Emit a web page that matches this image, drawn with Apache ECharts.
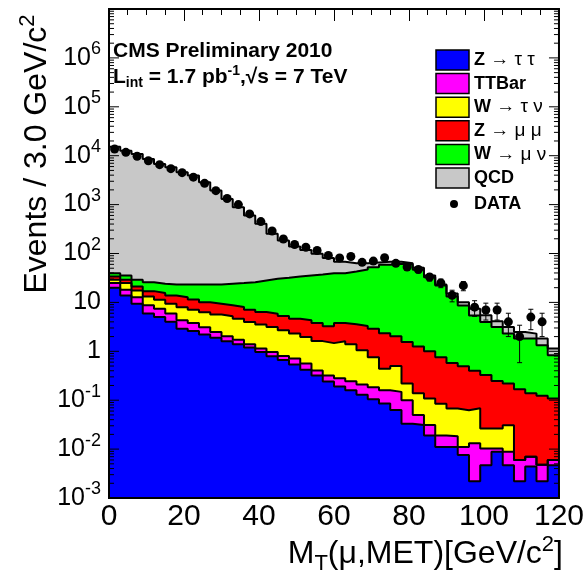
<!DOCTYPE html>
<html>
<head>
<meta charset="utf-8">
<script src="https://cdn.jsdelivr.net/npm/echarts@6/dist/echarts.min.js"></script>
<style>
  html, body { margin: 0; padding: 0; background: #fff; }
  #chart { width: 587px; height: 571px; }
</style>
</head>
<body>
<div id="chart"></div>
<script>
  // low edge of each 3 GeV bin
  const binLow = [0, 3, 6, 9, 12, 15, 18, 21, 24, 27, 30, 33, 36, 39, 42, 45, 48, 51, 54, 57,
    60, 63, 66, 69, 72, 75, 78, 81, 84, 87, 90, 93, 96, 99, 102, 105, 108, 111, 114, 117]
  const binWidth = 3

  // MC samples, events per bin (stacked bottom -> top)
  const zTauTau = [20.0, 13.9, 9.4, 5.9, 5.0, 4.0, 2.9, 2.6, 2.2, 1.9, 1.6, 1.39, 1.19, 0.97, 0.79, 0.66, 0.54, 0.42, 0.32, 0.24,
    0.19, 0.16, 0.13, 0.105, 0.086, 0.063, 0.033, 0.031, 0.019, 0.011, 0.011, 0.0076, 0.0022, 0.0047, 0.0088, 0.0047, 0.0022, 0.0044, 0.0022, 0.0047]
  const ttBar = [4.8, 4.3, 3.4, 2.8, 2.4, 1.9, 1.4, 1.2, 0.9, 0.58, 0.42, 0.34, 0.20, 0.17, 0.18, 0.14, 0.17, 0.14, 0.085, 0.08,
    0.09, 0.084, 0.08, 0.079, 0.074, 0.085, 0.067, 0.019, 0.012, 0.008, 0.0073, 0.0035, 0.011, 0.0056, 0.0015, 0.0041, 0.0038, 0.0026, 0.0026, 0.0013]
  const wTauNu = [4.2, 6.6, 4.8, 4.5, 3.9, 3.5, 3.7, 3.3, 3.2, 3.2, 3.2, 2.9, 2.57, 2.4, 2.16, 1.89, 1.59, 1.40, 1.21, 1.15,
    1.32, 1.15, 0.84, 0.57, 0.28, 0.35, 0.12, 0.088, 0.077, 0.066, 0.049, 0.051, 0.055, 0.016, 0.016, 0.022, 0, 0, 0, 0]
  const zMuMu = [4.9, 4.2, 3.6, 3.8, 4.2, 4.5, 4.8, 4.3, 3.8, 3.7, 3.5, 3.4, 3.1, 2.8, 2.7, 2.57, 2.35, 2.34, 2.16, 1.8,
    2.18, 2.17, 2.23, 2.15, 1.89, 1.53, 1.33, 1.12, 0.89, 0.67, 0.51, 0.43, 0.33, 0.30, 0.22, 0.19, 0.162, 0.132, 0.119, 0.102]
  const wMuNu = [5.7, 6.6, 7.8, 8.9, 8.6, 9.4, 10.5, 11.9, 13.2, 13.9, 15.4, 16.8, 18.8, 21.8, 24.6, 26.7, 29.3, 31.3, 33.5, 36.0,
    35.8, 39.4, 43.8, 49.6, 56.5, 59.6, 58.2, 45.2, 31.8, 21.4, 12.7, 8.2, 5.0, 3.64, 2.89, 2.08, 1.65, 1.68, 1.20, 0.72]
  const qcd = [15200, 12600, 10800, 8540, 6750, 5750, 4540, 3890, 2830, 1910, 1280, 856, 571, 376, 222, 152, 105, 83, 61, 42,
    28, 20, 16, 13, 8.9, 6.1, 3.7, 4.6, 2.8, 1.1, 1.9, 1.4, 2.0, 1.5, 1.0, 0.83, 0.66, 0.48, 0.50, 0.31]

  // observed events per bin (null = empty bin)
  const dataCounts = [13700, 11700, 9770, 7900, 6550, 5430, 4500, 3640, 2720, 1930, 1330, 1000, 646, 450, 288, 198, 153, 134, 115, 91,
    81, 87, 66, 70, 82, 63, 53, 47, 33, 25, 14, 22, 8, 7, 7, 4, 2, 5, 4, null]

  const sampleNames = ['Z → τ τ', 'TTBar', 'W → τ ν', 'Z → μ μ', 'W → μ ν', 'QCD']
  const sampleColors = ['#0000ff', '#ff00ff', '#ffff00', '#ff0000', '#00ff00', '#c8c8c8']
  const samples = [zTauTau, ttBar, wTauNu, zMuMu, wMuNu, qcd]

  const yDecades = [-3, -2, -1, 0, 1, 2, 3, 4, 5, 6]
  const FONT = '"Liberation Sans", Arial, Helvetica, sans-serif'

  // running sums for the stack
  let running = binLow.map(() => 0)
  const cumulative = samples.map(vals => {
    running = running.map((v, i) => v + vals[i])
    return running.slice()
  })

  // one step-line series per stacked layer, drawn from the top layer down
  const histSeries = []
  for (let k = samples.length - 1; k >= 0; k--) {
    const cum = cumulative[k]
    const pts = binLow.map((x, i) => [x, cum[i]])
    pts.push([binLow[binLow.length - 1] + binWidth, cum[cum.length - 1]])
    histSeries.push({
      name: sampleNames[k],
      type: 'line',
      step: 'end',
      data: pts,
      symbol: 'none',
      silent: true,
      color: sampleColors[k],
      lineStyle: { color: '#000', width: 2 },
      areaStyle: { color: sampleColors[k], opacity: 1, origin: 'start' },
      z: 2
    })
  }

  const dataPoints = []
  const errPoints = []
  binLow.forEach((x, i) => {
    const n = dataCounts[i]
    if (n == null) return
    dataPoints.push([x + binWidth / 2, n])
    errPoints.push([x + binWidth / 2, n, Math.sqrt(n)])
  })

  // y ticks (decades long, 2..9 short), drawn on both frame sides
  const yTicks = []
  yDecades.forEach(e => {
    yTicks.push([0, Math.pow(10, e), 1])
    for (let m = 2; m <= 9; m++) yTicks.push([0, m * Math.pow(10, e), 0])
  })

  const chart = echarts.init(document.getElementById('chart'))

  const axisX = (pos, labels) => ({
    type: 'value', position: pos, min: 0, max: 120, interval: 20,
    axisLine: { show: false }, splitLine: { show: false },
    axisTick: { show: true, inside: true, length: 12, lineStyle: { color: '#000', width: 1 } },
    minorTick: { show: true, splitNumber: 4, length: 6, lineStyle: { color: '#000', width: 1 } },
    axisLabel: { show: labels, fontSize: 30, color: '#000', fontFamily: FONT, margin: 4 }
  })

  // legend made of plain shapes so the boxes and dot match the original
  const legendGraphics = []
  sampleNames.forEach((name, i) => {
    const cy = 60 + i * 23.6
    legendGraphics.push({
      type: 'rect', shape: { x: 436, y: cy - 10, width: 33, height: 20 },
      style: { fill: sampleColors[i], stroke: '#000', lineWidth: 1.5 }, z: 10
    })
    const sp = name.indexOf(' ')
    const txt = sp > 0 ? '{b|' + name.slice(0, sp) + '}{g|' + name.slice(sp) + '}' : '{b|' + name + '}'
    legendGraphics.push({
      type: 'text', x: 474, y: cy, z: 10,
      style: {
        text: txt, verticalAlign: 'middle', align: 'left',
        rich: {
          b: { fontSize: 18, fontWeight: 'bold', fontFamily: FONT, fill: '#000' },
          g: { fontSize: 19, fontFamily: FONT, fill: '#000' }
        }
      }
    })
  })
  legendGraphics.push({ type: 'circle', shape: { cx: 454, cy: 204, r: 4 }, style: { fill: '#000' }, z: 10 })
  legendGraphics.push({
    type: 'text', x: 474, y: 204, z: 10,
    style: { text: 'DATA', fontSize: 18, fontWeight: 'bold', fontFamily: FONT, fill: '#000', verticalAlign: 'middle' }
  })

  chart.setOption({
    animation: false,
    backgroundColor: '#fff',
    grid: { left: 109, right: 25, top: 9, bottom: 73, show: true, borderColor: '#000', borderWidth: 2, backgroundColor: 'transparent', z: 5 },
    xAxis: [axisX('bottom', true), axisX('top', false)],
    yAxis: {
      type: 'log', logBase: 10, min: 0.001, max: 1e7, interval: 1, splitNumber: 10,
      axisLine: { show: false }, splitLine: { show: false }, axisTick: { show: false },
      axisLabel: {
        margin: 8, color: '#000', fontFamily: FONT, fontSize: 25, showMaxLabel: false,
        formatter: v => {
          const e = Math.round(Math.log10(v))
          if (e === 0) return '{n|1}'
          if (e === 1) return '{n|10}'
          return '{n|10}{s|' + e + '}'
        },
        rich: {
          n: { fontSize: 25, fontFamily: FONT, color: '#000' },
          s: { fontSize: 18, fontFamily: FONT, color: '#000', padding: [0, 0, 17, 0] }
        }
      }
    },
    graphic: [
      {
        type: 'text', x: 113, y: 51, z: 10,
        style: { text: 'CMS Preliminary 2010', fontSize: 21, fontWeight: 'bold', fontFamily: FONT, fill: '#000', verticalAlign: 'middle' }
      },
      {
        type: 'text', x: 113, y: 77, z: 10,
        style: {
          text: '{b|L}{sub|int}{b| = 1.7 pb}{sup|-1}{b|,√s = 7 TeV}', verticalAlign: 'middle',
          rich: {
            b: { fontSize: 21, fontWeight: 'bold', fontFamily: FONT, fill: '#000' },
            sub: { fontSize: 14, fontWeight: 'bold', fontFamily: FONT, fill: '#000', padding: [12, 0, 0, 0] },
            sup: { fontSize: 14, fontWeight: 'bold', fontFamily: FONT, fill: '#000', padding: [0, 0, 11, 0] }
          }
        }
      },
      {
        type: 'text', x: 563, y: 554, z: 10,
        style: {
          text: '{n|M}{sub|T}{n|(μ,MET)[GeV/c}{sup|2}{n|]}', align: 'right', verticalAlign: 'middle',
          rich: {
            n: { fontSize: 32, fontFamily: FONT, fill: '#000' },
            sub: { fontSize: 22, fontFamily: FONT, fill: '#000', padding: [20, 0, 0, 0] },
            sup: { fontSize: 22, fontFamily: FONT, fill: '#000', padding: [0, 0, 18, 0] }
          }
        }
      },
      {
        type: 'text', x: 37, y: 154, rotation: Math.PI / 2, z: 10,
        style: {
          text: '{n|Events / 3.0 GeV/c}{sup|2}', align: 'center', verticalAlign: 'middle',
          rich: {
            n: { fontSize: 32, fontFamily: FONT, fill: '#000' },
            sup: { fontSize: 22, fontFamily: FONT, fill: '#000', padding: [0, 0, 18, 0] }
          }
        }
      }
    ].concat(legendGraphics),
    series: histSeries.concat([
      {
        type: 'custom', name: 'yticks', silent: true, z: 6,
        data: yTicks, encode: { x: 0, y: 1 },
        renderItem: (params, api) => {
          const v = api.value(1)
          const len = api.value(2) ? 10 : 5
          const l = api.coord([0, v])
          const r = api.coord([120, v])
          const st = { stroke: '#000', lineWidth: 1 }
          return {
            type: 'group', children: [
              { type: 'line', shape: { x1: l[0], y1: l[1], x2: l[0] + len, y2: l[1] }, style: st },
              { type: 'line', shape: { x1: r[0], y1: r[1], x2: r[0] - len, y2: r[1] }, style: st }
            ]
          }
        }
      },
      {
        type: 'custom', name: 'DATA errors', silent: true, z: 7,
        data: errPoints, encode: { x: 0, y: 1 },
        renderItem: (params, api) => {
          const x = api.value(0), n = api.value(1), e = api.value(2)
          const t = api.coord([x, n + e])
          const b = api.coord([x, Math.max(n - e, 0.001)])
          const st = { stroke: '#000', lineWidth: 1 }
          return {
            type: 'group', children: [
              { type: 'line', shape: { x1: t[0], y1: t[1], x2: b[0], y2: b[1] }, style: st },
              { type: 'line', shape: { x1: t[0] - 2.5, y1: t[1], x2: t[0] + 2.5, y2: t[1] }, style: st },
              { type: 'line', shape: { x1: b[0] - 2.5, y1: b[1], x2: b[0] + 2.5, y2: b[1] }, style: st }
            ]
          }
        }
      },
      {
        name: 'DATA', type: 'scatter', data: dataPoints, symbol: 'circle', symbolSize: 9,
        itemStyle: { color: '#000', opacity: 1 }, silent: true, z: 8
      }
    ])
  })
</script>
</body>
</html>
